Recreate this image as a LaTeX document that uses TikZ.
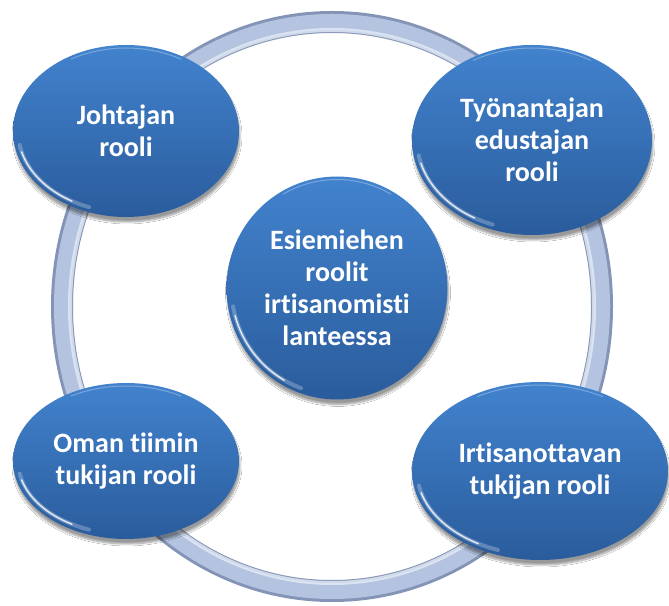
\documentclass[tikz,border=0pt]{standalone}
\usepackage{fontspec}
\setmainfont[Ligatures=NoCommon]{Carlito}
\usetikzlibrary{shapes.geometric,shadows.blur}
\definecolor{balltop}{RGB}{66,131,206}
\definecolor{ballbot}{RGB}{42,92,156}
\definecolor{ringmid}{RGB}{180,196,224}
\definecolor{ringedge}{RGB}{132,148,182}
\definecolor{ringlight}{RGB}{228,235,246}
\tikzset{
  x=1pt, y=1pt,
  ball/.style={ellipse, inner sep=0pt, top color=balltop, bottom color=ballbot,
    blur shadow={shadow xshift=1pt, shadow yshift=-5pt, shadow opacity=40, shadow blur steps=8},
    text=white, font=\fontsize{28}{32}\selectfont\bfseries, align=center},
  ringline/.style={ellipse, inner sep=0pt, minimum width=540, minimum height=569},
  shine/.style={white, line cap=round},
}
\begin{document}
\begin{tikzpicture}
\useasboundingbox (0,0) rectangle (669,605);
\fill[white] (0,0) rectangle (669,605);

% the surrounding ring, built up as a tube
\node[ringline, draw=ringedge, line width=22pt] (ring) at (332,298.5) {};
\node[ringline, draw=ringmid, line width=16pt] (ringb) at (332,298.5) {};
\node[ellipse, inner sep=0pt, minimum width=524, minimum height=553,
      draw=ringlight, line width=4pt, opacity=0.8] (ringc) at (332,298.5) {};

% the five roles
\node[ball, minimum width=226, minimum height=172] (j) at (126,474) {Johtajan\\rooli};
\node[ball, minimum width=240, minimum height=190] (t) at (532,465) {Työnantajan\\edustajan\\rooli};
\node[ball, minimum width=226, minimum height=156] (o) at (126,144) {Oman tiimin\\tukijan rooli};
\node[ball, minimum width=256, minimum height=178] (i) at (540,134) {Irtisanottavan\\tukijan rooli};
\node[ball, minimum width=221, minimum height=223] (c) at (337,317) {Esiemiehen\\roolit\\irtisanomisti\\lanteessa};

% glossy rim light on the lower left of each ball
\foreach \n/\a/\b in {j/113/86, t/120/95, o/113/78, i/128/89, c/110.5/111.5}{
  \draw[shine, line width=4pt, opacity=0.25]
    (\n.center) ++(190:{\a-5} and {\b-5}) arc[start angle=190, end angle=250, x radius=\a-5, y radius=\b-5];
  \draw[shine, line width=1.5pt, opacity=0.8]
    (\n.center) ++(195:{\a-5} and {\b-5}) arc[start angle=195, end angle=240, x radius=\a-5, y radius=\b-5];
  \draw[shine, line width=1pt, opacity=0.3]
    (\n.center) ++(60:{\a-3} and {\b-3}) arc[start angle=60, end angle=120, x radius=\a-3, y radius=\b-3];
}
\end{tikzpicture}
\end{document}
